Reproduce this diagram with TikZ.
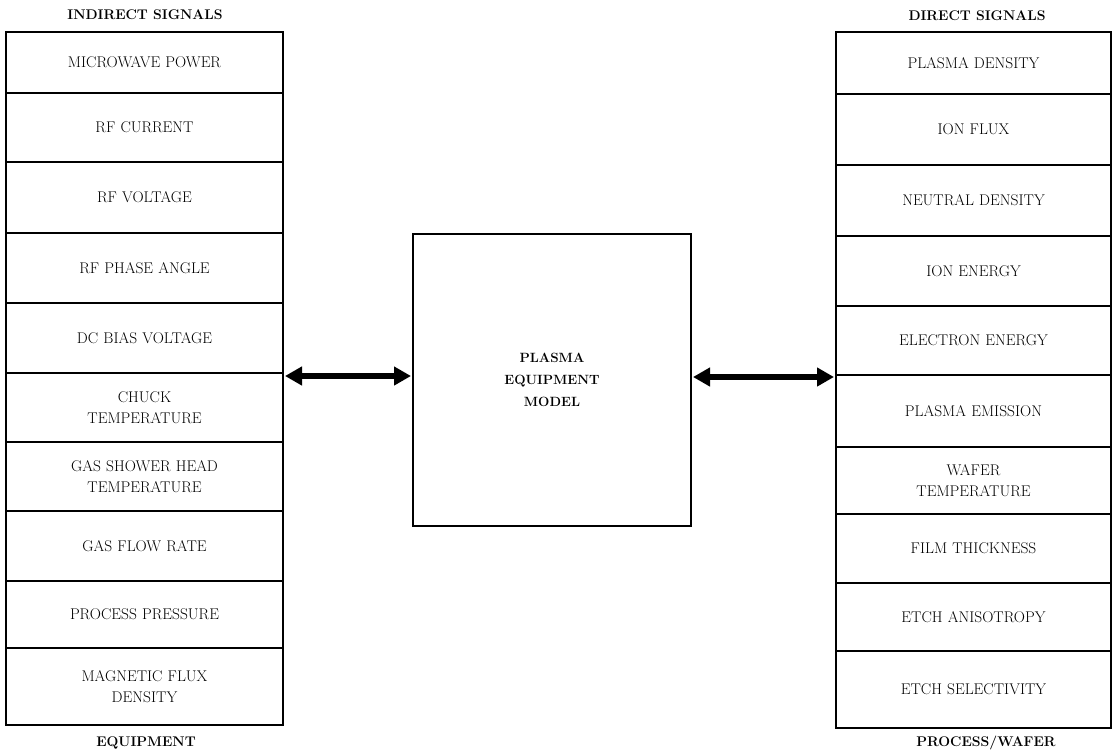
\documentclass[tikz,border=0pt]{standalone}
\usetikzlibrary{arrows.meta,calc}
\begin{document}
\begin{tikzpicture}[x=1pt,y=-1pt,
  cell/.style={draw, line width=2pt, inner sep=2pt, outer sep=0pt,
    align=center, text width=262pt,
    font=\fontsize{15.5}{21}\selectfont},
  head/.style={font=\fontsize{14}{16}\selectfont\bfseries, inner sep=0pt},
  modelbox/.style={draw, line width=2pt, minimum width=278pt, minimum height=292pt,
    outer sep=0pt, align=center, font=\fontsize{13.4}{22}\selectfont\bfseries},
  link/.style={line width=5.5pt,
    {Triangle[length=17pt,width=18pt]}-{Triangle[length=17pt,width=18pt]},
    shorten >=2pt, shorten <=2pt}
]
\useasboundingbox (0,0) rectangle (1114,753);

% equipment-side (indirect) signals: top/bottom/label
\foreach \a/\b/\t [count=\i] in {32/93/MICROWAVE POWER, 93/162/RF CURRENT,
    162/233/RF VOLTAGE, 233/303/RF PHASE ANGLE, 303/373/DC BIAS VOLTAGE,
    373/442/{CHUCK\\TEMPERATURE}, 442/511/{GAS SHOWER HEAD\\TEMPERATURE},
    511/581/GAS FLOW RATE, 581/648/PROCESS PRESSURE,
    648/725/{MAGNETIC FLUX\\DENSITY}}
{
  \pgfmathsetmacro\h{\b-\a}
  \pgfmathsetmacro\c{(\a+\b)/2}
  \node[cell, minimum width=277pt, minimum height=\h pt] (l\i) at (144.5,\c) {\t};
}

% process/wafer-side (direct) signals: top/bottom/label
\foreach \a/\b/\t [count=\i] in {32/94/PLASMA DENSITY, 94/165/ION FLUX,
    165/236/NEUTRAL DENSITY, 236/306/ION ENERGY, 306/375/ELECTRON ENERGY,
    375/447/PLASMA EMISSION, 447/514/{WAFER\\TEMPERATURE},
    514/583/FILM THICKNESS, 583/651/ETCH ANISOTROPY, 651/728/ETCH SELECTIVITY}
{
  \pgfmathsetmacro\h{\b-\a}
  \pgfmathsetmacro\c{(\a+\b)/2}
  \node[cell, minimum width=275pt, minimum height=\h pt] (r\i) at (973.5,\c) {\t};
}

% column headings
\node[head] (hl) at (145,15) {INDIRECT SIGNALS};
\node[head] (fl) at (146,743) {EQUIPMENT};
\node[head] (hr) at (977,16) {DIRECT SIGNALS};
\node[head] (fr) at (986,743) {PROCESS/WAFER};

% central model
\node[modelbox] (model) at (552,380) {PLASMA\\EQUIPMENT\\MODEL};

% two-way links
\coordinate (la) at ([yshift=-3pt]l5.south east);
\coordinate (ra) at ([yshift=-2pt]r5.south west);
\draw[link] (la) -- (la -| model.west);
\draw[link] (ra -| model.east) -- (ra);
\end{tikzpicture}
\end{document}
